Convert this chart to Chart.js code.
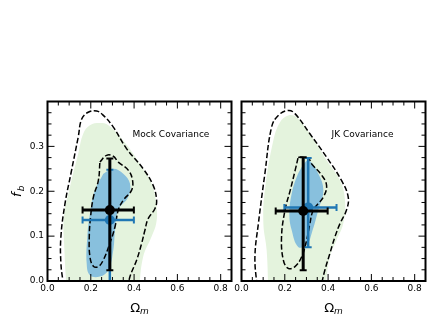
<!DOCTYPE html>
<html><head><meta charset="utf-8">
<script src="https://cdn.jsdelivr.net/npm/chart.js@4/dist/chart.umd.min.js"></script>
<style>
html,body{margin:0;padding:0;background:#fff;}
#wrap{position:relative;width:436px;height:327px;overflow:hidden;background:#fff;}
canvas{position:absolute;top:0;}
</style></head><body>
<div id="wrap">
<canvas id="c1" width="240" height="327" style="left:0px"></canvas>
<canvas id="c2" width="211" height="327" style="left:225px"></canvas>
</div>
<script>
// ---------- tick values ----------
const xTickValues = [0.0, 0.2, 0.4, 0.6, 0.8];
const xMinorValues = [0.05, 0.1, 0.15, 0.25, 0.3, 0.35, 0.45, 0.5, 0.55, 0.65, 0.7, 0.75];
const yTickValues = [0.0, 0.1, 0.2, 0.3];
const yMinorValues = [0.025, 0.05, 0.075, 0.125, 0.15, 0.175, 0.225, 0.25, 0.275, 0.325, 0.35, 0.375];

// ---------- Mock covariance panel ----------
const mockGreenFill = [[0.088,-0.02],[0.078,0.07],[0.076,0.143],[0.104,0.210],[0.142,0.284],[0.165,0.328],[0.196,0.347],[0.242,0.352],[0.281,0.347],[0.350,0.313],[0.427,0.261],[0.481,0.217],[0.504,0.165],[0.502,0.128],[0.481,0.099],[0.442,0.054],[0.422,-0.02]];
const mockBlueFill = [[0.258,0.239],[0.304,0.250],[0.350,0.239],[0.381,0.217],[0.373,0.187],[0.327,0.158],[0.312,0.113],[0.304,0.069],[0.281,0.024],[0.242,0.010],[0.196,0.013],[0.181,0.039],[0.184,0.099],[0.196,0.150],[0.219,0.202]];
const mockOuterContour = [[0.074,-0.01],[0.062,0.039],[0.062,0.099],[0.081,0.173],[0.108,0.239],[0.142,0.321],[0.158,0.361],[0.188,0.376],[0.227,0.379],[0.258,0.369],[0.304,0.343],[0.365,0.295],[0.442,0.250],[0.488,0.213],[0.504,0.180],[0.496,0.161],[0.465,0.139],[0.450,0.113],[0.435,0.084],[0.412,0.047],[0.381,0.010],[0.374,-0.01]];
const mockInnerContour = [[0.242,0.265],[0.273,0.280],[0.304,0.278],[0.327,0.265],[0.373,0.247],[0.393,0.224],[0.388,0.202],[0.350,0.180],[0.327,0.158],[0.312,0.121],[0.288,0.084],[0.258,0.047],[0.235,0.032],[0.212,0.033],[0.196,0.054],[0.193,0.099],[0.199,0.143],[0.212,0.187],[0.235,0.224]];
const mockFitX = [0.288, 0.288];            // [mock fit (black), blue fit]
const mockFitY = [0.158, 0.136];
const mockErrX = [[0.162, 0.399], [0.162, 0.399]];
const mockErrY = [[0.024, 0.273], [-0.02, 0.248]];

// ---------- JK covariance panel ----------
const jkGreenFill = [[0.124,-0.02],[0.116,0.069],[0.101,0.128],[0.108,0.202],[0.147,0.313],[0.178,0.354],[0.216,0.369],[0.255,0.365],[0.316,0.328],[0.393,0.269],[0.455,0.224],[0.478,0.180],[0.470,0.128],[0.439,0.091],[0.408,0.054],[0.386,-0.02]];
const jkBlueFill = [[0.278,0.254],[0.309,0.269],[0.355,0.239],[0.378,0.202],[0.355,0.158],[0.324,0.106],[0.301,0.080],[0.262,0.076],[0.232,0.113],[0.221,0.150],[0.232,0.195],[0.255,0.232]];
const jkOuterContour = [[0.071,-0.01],[0.062,0.054],[0.078,0.128],[0.108,0.239],[0.139,0.343],[0.170,0.369],[0.216,0.380],[0.247,0.373],[0.316,0.328],[0.393,0.276],[0.462,0.224],[0.493,0.187],[0.485,0.158],[0.455,0.128],[0.432,0.099],[0.408,0.061],[0.385,0.024],[0.368,-0.01]];
const jkInnerContour = [[0.262,0.276],[0.309,0.273],[0.324,0.261],[0.370,0.236],[0.393,0.213],[0.378,0.187],[0.332,0.158],[0.316,0.128],[0.301,0.091],[0.278,0.054],[0.247,0.032],[0.216,0.028],[0.193,0.047],[0.185,0.099],[0.201,0.158],[0.225,0.202],[0.248,0.247]];
const jkFitX = [0.285, 0.308];
const jkFitY = [0.156, 0.164];
const jkErrX = [[0.158, 0.398], [0.198, 0.439]];
const jkErrY = [[0.024, 0.276], [0.075, 0.274]];

const panelLabels = ['Mock Covariance', 'JK Covariance'];

// ---------- styling ----------
const FONT = 'DejaVu Sans';
const GREEN = '#e4f3dd';
const LIGHTBLUE = 'rgb(136,192,221)';
const DARKBLUE = '#2077b4';

function pts(arr, close) {
  const p = arr.map(a => ({x: a[0], y: a[1]}));
  if (close) p.push({x: arr[0][0], y: arr[0][1]});
  return p;
}

const frameTicksPlugin = {
  id: 'frameTicks',
  afterDatasetsDraw(chart) {
    const {ctx, chartArea: a, scales: {x, y}} = chart;
    ctx.save();
    ctx.strokeStyle = '#000';
    ctx.lineWidth = 1;
    ctx.beginPath();
    const major = 7, minor = 4;
    xTickValues.forEach(v => { const px = x.getPixelForValue(v);
      ctx.moveTo(px, a.bottom); ctx.lineTo(px, a.bottom - major);
      ctx.moveTo(px, a.top); ctx.lineTo(px, a.top + major); });
    xMinorValues.forEach(v => { const px = x.getPixelForValue(v);
      ctx.moveTo(px, a.bottom); ctx.lineTo(px, a.bottom - minor);
      ctx.moveTo(px, a.top); ctx.lineTo(px, a.top + minor); });
    yTickValues.forEach(v => { const py = y.getPixelForValue(v);
      ctx.moveTo(a.left, py); ctx.lineTo(a.left + major, py);
      ctx.moveTo(a.right, py); ctx.lineTo(a.right - major, py); });
    yMinorValues.forEach(v => { const py = y.getPixelForValue(v);
      ctx.moveTo(a.left, py); ctx.lineTo(a.left + minor, py);
      ctx.moveTo(a.right, py); ctx.lineTo(a.right - minor, py); });
    ctx.stroke();
    ctx.lineWidth = 2;
    ctx.strokeRect(a.left, a.top, a.right - a.left, a.bottom - a.top);
    ctx.restore();
  }
};

const errorBarPlugin = {
  id: 'errorBars',
  beforeDatasetDraw(chart, args) {
    const ds = chart.data.datasets[args.index];
    if (!ds.errX) return;
    const {ctx, chartArea: a, scales: {x, y}} = chart;
    ctx.save();
    ctx.beginPath(); ctx.rect(a.left, a.top, a.right - a.left, a.bottom - a.top); ctx.clip();
    ctx.strokeStyle = ds.backgroundColor;
    ctx.lineCap = 'butt';
    const cx = x.getPixelForValue(ds.data[0].x), cy = y.getPixelForValue(ds.data[0].y);
    const x0 = x.getPixelForValue(ds.errX[0]), x1 = x.getPixelForValue(ds.errX[1]);
    const y0 = y.getPixelForValue(ds.errY[0]), y1 = y.getPixelForValue(ds.errY[1]);
    ctx.lineWidth = ds.barWidth;
    ctx.beginPath();
    ctx.moveTo(x0, cy); ctx.lineTo(x1, cy);
    ctx.moveTo(cx, y0); ctx.lineTo(cx, y1);
    ctx.stroke();
    const cap = 3.5;
    ctx.lineWidth = 2;
    ctx.beginPath();
    ctx.moveTo(x0, cy - cap); ctx.lineTo(x0, cy + cap);
    ctx.moveTo(x1, cy - cap); ctx.lineTo(x1, cy + cap);
    ctx.moveTo(cx - cap, y0); ctx.lineTo(cx + cap, y0);
    ctx.moveTo(cx - cap, y1); ctx.lineTo(cx + cap, y1);
    ctx.stroke();
    ctx.restore();
  }
};

const textPlugin = {
  id: 'texts',
  afterDraw(chart, args, opts) {
    const {ctx, chartArea: a, scales: {x, y}} = chart;
    ctx.save();
    ctx.fillStyle = '#000';
    // panel label
    ctx.font = '9px ' + FONT;
    ctx.textAlign = 'left'; ctx.textBaseline = 'middle';
    ctx.fillText(opts.label, x.getPixelForValue(opts.labelX), y.getPixelForValue(opts.labelY));
    // x title  Ω_m
    ctx.textBaseline = 'alphabetic';
    ctx.font = '13px ' + FONT;
    const wO = ctx.measureText('Ω').width;
    ctx.font = 'italic 9px ' + FONT;
    const wm = ctx.measureText('m').width;
    const cxm = (a.left + a.right) / 2;
    const sx = cxm - (wO + wm) / 2;
    const by = 311.5;
    ctx.font = '13px ' + FONT; ctx.fillText('Ω', sx, by);
    ctx.font = 'italic 9px ' + FONT; ctx.fillText('m', sx + wO, by + 2.5);
    // y title f_b
    if (opts.yTitle) {
      ctx.translate(21, (a.top + a.bottom) / 2);
      ctx.rotate(-Math.PI / 2);
      ctx.font = 'italic 13px ' + FONT;
      const wf = ctx.measureText('f').width;
      ctx.font = 'italic 9px ' + FONT;
      const wb = ctx.measureText('b').width;
      const s = -(wf + wb + 1) / 2;
      ctx.font = 'italic 13px ' + FONT; ctx.fillText('f', s, 0);
      ctx.font = 'italic 9px ' + FONT; ctx.fillText('b', s + wf + 1, 2.5);
    }
    ctx.restore();
  }
};

function makeChart(id, d, showYLabels, yAxisWidth, padRight, label, labelX, labelY) {
  const datasets = [
    {data: [{x: d.fitX[0], y: d.fitY[0]}], pointRadius: 5, pointHoverRadius: 5, backgroundColor: '#000', pointBackgroundColor: '#000', pointBorderWidth: 0, borderWidth: 0, order: 0, errX: d.errX[0], errY: d.errY[0], barWidth: 3},
    {data: [{x: d.fitX[1], y: d.fitY[1]}], pointRadius: 5, pointHoverRadius: 5, backgroundColor: DARKBLUE, pointBackgroundColor: DARKBLUE, pointBorderWidth: 0, borderWidth: 0, order: 1, errX: d.errX[1], errY: d.errY[1], barWidth: 2.5},
    {data: pts(d.inner, true), showLine: true, pointRadius: 0, borderColor: '#000', borderWidth: 1.5, borderDash: [5.5, 2.5], fill: false, tension: 0.4, order: 2},
    {data: pts(d.outer, false), showLine: true, pointRadius: 0, borderColor: '#000', borderWidth: 1.5, borderDash: [5.5, 2.5], fill: false, tension: 0.4, order: 3},
    {data: pts(d.blue, true), showLine: true, pointRadius: 0, borderColor: 'rgba(0,0,0,0)', borderWidth: 0, backgroundColor: LIGHTBLUE, fill: 'shape', tension: 0.4, order: 4},
    {data: pts(d.green, false), showLine: true, pointRadius: 0, borderColor: 'rgba(0,0,0,0)', borderWidth: 0, backgroundColor: GREEN, fill: 'shape', tension: 0.4, order: 5}
  ];
  return new Chart(document.getElementById(id), {
    type: 'scatter',
    data: {datasets},
    plugins: [errorBarPlugin, frameTicksPlugin, textPlugin],
    options: {
      responsive: false, animation: false, devicePixelRatio: 1,
      layout: {padding: {top: 101.5, right: padRight, bottom: 0, left: 0}},
      plugins: {legend: {display: false}, tooltip: {enabled: false},
        texts: {label, labelX, labelY, yTitle: showYLabels}},
      scales: {
        x: {type: 'linear', position: 'bottom', min: 0, max: 0.85,
          grid: {display: false, drawTicks: false}, border: {display: false},
          ticks: {font: {family: FONT, size: 9}, color: '#000', padding: 2, maxRotation: 0, autoSkip: false,
            callback: v => v.toFixed(1)},
          afterBuildTicks: s => { s.ticks = xTickValues.map(v => ({value: v})); },
          afterFit: s => { s.height = 46; }},
        y: {type: 'linear', position: 'left', min: 0, max: 0.4,
          grid: {display: false, drawTicks: false}, border: {display: false},
          ticks: {display: showYLabels, font: {family: FONT, size: 9}, color: '#000', padding: 3.5, autoSkip: false,
            callback: v => v.toFixed(1)},
          afterBuildTicks: s => { s.ticks = yTickValues.map(v => ({value: v})); },
          afterFit: s => { s.width = yAxisWidth; }}
      }
    }
  });
}

makeChart('c1', {green: mockGreenFill, blue: mockBlueFill, outer: mockOuterContour, inner: mockInnerContour,
  fitX: mockFitX, fitY: mockFitY, errX: mockErrX, errY: mockErrY}, true, 47.5, 8.5, panelLabels[0], 0.393, 0.326);
makeChart('c2', {green: jkGreenFill, blue: jkBlueFill, outer: jkOuterContour, inner: jkInnerContour,
  fitX: jkFitX, fitY: jkFitY, errX: jkErrX, errY: jkErrY}, false, 16.5, 10.5, panelLabels[1], 0.416, 0.326);
</script>
</body></html>
